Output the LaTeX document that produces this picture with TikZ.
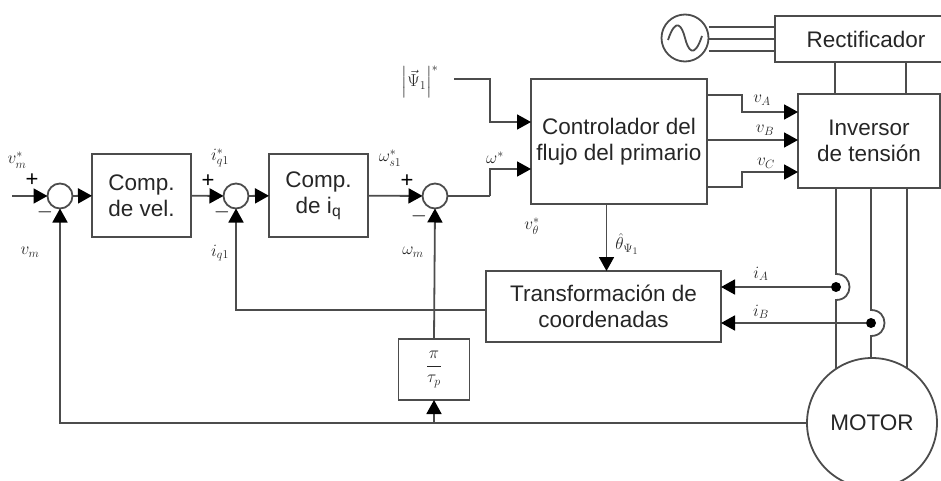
\documentclass[tikz,border=0pt]{standalone}
\usepackage{amsmath}
\usepackage{fontspec}
\setmainfont{Liberation Sans}
\usetikzlibrary{arrows.meta}
\definecolor{linecol}{gray}{0.3}
\definecolor{txtcol}{gray}{0.15}
\tikzset{
  block/.style={draw=linecol, line width=1.8pt, inner sep=0pt, outer sep=0pt, align=center, text=txtcol,
    font=\fontsize{22.5}{26}\selectfont},
  sumnode/.style={circle, draw=linecol, line width=1.8pt, minimum size=25pt, inner sep=0pt, outer sep=0pt},
  wire/.style={draw=linecol, line width=1.8pt},
  sig/.style={wire, -{Triangle[length=14pt,width=15pt,color=black]}},
  lbl/.style={text=txtcol, inner sep=0pt, font=\LARGE},
  sign/.style={text=black, inner sep=0pt, font=\fontsize{22}{22}\selectfont},
  sensordot/.style={circle, fill=black, minimum size=10pt, inner sep=0pt, outer sep=0pt}
}

\begin{document}
\begin{tikzpicture}[x=1pt, y=-1pt]
\clip (0,0) rectangle (941,481);
% Speed and current loops
\node[sumnode] (sumvel) at (60,196) {};
\node[block, minimum width=99pt, minimum height=83pt] (compvel) at (141.5,195.5) {Comp.\\de vel.};
\node[sumnode] (sumiq) at (236,196) {};
\node[block, minimum width=99pt, minimum height=83pt] (compiq) at (318.5,195.5) {Comp.\\de i\textsubscript{q}};
\node[sumnode] (sumw) at (435,196) {};
\coordinate (vin) at (12,196);
\draw[sig] (vin) -- (sumvel);
\draw[sig] (sumvel) -- (compvel);
\draw[sig] (compvel) -- (sumiq);
\draw[sig] (sumiq) -- (compiq);
\draw[sig] (compiq) -- (sumw);

% Primary flux controller
\node[block, minimum width=176pt, minimum height=125pt] (ctrl) at (619,141.5) {Controlador del\\flujo del primario};
\node[lbl] (psilbl) at (420,82) {$\left|\vec{\Psi}_{1}\right|^{*}$};
\coordinate (psiin) at (454,79);
\coordinate (psibend) at (490,79);
\coordinate (psiend) at (531,122);
\coordinate (wbend) at (490,196);
\coordinate (wend) at (531,169);
\draw[sig] (psiin) -- (psibend) |- (psiend);
\draw[wire] (sumw) -- (wbend);
\draw[sig] (wbend) |- (wend);

% Source, rectifier and inverter
\node[block, minimum width=182pt, minimum height=46pt] (rect) at (866,39) {Rectificador};
\node[block, minimum width=142pt, minimum height=94pt] (inv) at (869,141) {Inversor\\de tensión};
\node[circle, draw=linecol, line width=1.8pt, minimum size=47pt, inner sep=0pt, outer sep=0pt] (src) at (685,38) {};
\draw[wire] (668,40) .. controls (676,16) and (682,26) .. (685,38) .. controls (688,50) and (694,60) .. (702,36);
\foreach \yy in {27,39,51} {
  \draw[wire] (src.east |- 0,\yy) -- (rect.west |- 0,\yy);
}
\foreach \xx in {835,906} {
  \draw[wire] (\xx,62) -- (\xx,94);
}
\coordinate (vaout) at (707,95);
\coordinate (vaend) at (798,112);
\coordinate (vbout) at (707,140);
\coordinate (vbend) at (798,140);
\coordinate (vcout) at (707,187);
\coordinate (vcend) at (798,172);
\draw[sig] (vaout) -- (742,95) |- (vaend);
\draw[sig] (vbout) -- (vbend);
\draw[sig] (vcout) -- (742,187) |- (vcend);

% Coordinate transformation
\node[block, minimum width=235pt, minimum height=71pt] (transf) at (603.5,306.5) {Transformación de\\coordenadas};
\node[block, minimum width=71pt, minimum height=61pt] (gain) at (434,369.5) {\LARGE$\displaystyle\frac{\pi}{\tau_{p}}$};
\coordinate (tleft) at (486,310);
\coordinate (thin) at (606.5,204);
\draw[sig] (thin) -- (thin |- transf.north);
\draw[sig] (tleft) -| (sumiq.south);
\draw[sig] (gain.north) -- (sumw.south);

% Motor
\node[block, circle, minimum size=130pt, fill=white] (motor) at (872,423) {MOTOR};
\node[sensordot] (dota) at (836,287) {};
\node[sensordot] (dotb) at (871,323) {};
\coordinate (mota) at (836,369);
\coordinate (motb) at (871,358);
\draw[wire] (836,188) -- (836,274) .. controls +(18,0) and +(18,0) .. (836,300) -- (mota);
\draw[wire] (871,188) -- (871,310) .. controls +(18,0) and +(18,0) .. (871,336) -- (motb);
\draw[wire] (907,188) -- (907,368);
\draw[sig] (dota) -- (dota -| transf.east);
\draw[sig] (dotb) -- (dotb -| transf.east);
\draw[sig] (motor.west) -| (sumvel.south);
\coordinate (gainin) at (434,423);
\draw[sig] (gainin) -- (gain.south);

% Labels
\node[lbl] (vmref) at (17,160) {$v_{m}^{*}$};
\node[lbl] (vmfb) at (30,252) {$v_{m}$};
\node[lbl] (iqref) at (220,158) {$i_{q1}^{*}$};
\node[lbl] (iqfb) at (220,253) {$i_{q1}$};
\node[lbl] (wsref) at (390,158) {$\omega_{s1}^{*}$};
\node[lbl] (wmfb) at (413,252) {$\omega_{m}$};
\node[lbl] (wref) at (495,158) {$\omega^{*}$};
\node[lbl] (vtheta) at (532,226) {$v_{\theta}^{*}$};
\node[lbl] (thetalbl) at (627,244) {$\hat{\theta}_{\Psi_{1}}$};
\node[lbl] (valbl) at (762,100) {$v_{A}$};
\node[lbl] (vblbl) at (765,130) {$v_{B}$};
\node[lbl] (vclbl) at (766,163) {$v_{C}$};
\node[lbl] (ialbl) at (761,274) {$i_{A}$};
\node[lbl] (iblbl) at (761,312) {$i_{B}$};
\node[sign] (plusa) at (32,180) {+};
\node[sign] (minusa) at (45,212) {$-$};
\node[sign] (plusb) at (208,181) {+};
\node[sign] (minusb) at (222,212) {$-$};
\node[sign] (plusc) at (407,181) {+};
\node[sign] (minusc) at (419,216) {$-$};
\end{tikzpicture}
\end{document}
